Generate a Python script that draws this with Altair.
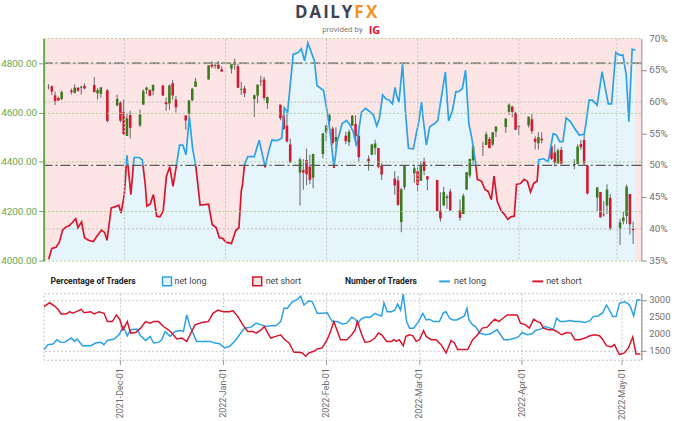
import altair as alt
import pandas as pd

# ---------------- data ----------------
candle_date = ["2021-11-08","2021-11-09","2021-11-10","2021-11-11","2021-11-12","2021-11-15","2021-11-16","2021-11-17","2021-11-18","2021-11-19","2021-11-22","2021-11-23","2021-11-24","2021-11-26","2021-11-29","2021-11-30",
"2021-12-01","2021-12-02","2021-12-03","2021-12-06","2021-12-07","2021-12-08","2021-12-09","2021-12-10","2021-12-13","2021-12-14","2021-12-15","2021-12-16","2021-12-17","2021-12-20","2021-12-21","2021-12-22","2021-12-23","2021-12-27","2021-12-28","2021-12-29","2021-12-30","2021-12-31",
"2022-01-03","2022-01-04","2022-01-05","2022-01-06","2022-01-07","2022-01-10","2022-01-11","2022-01-12","2022-01-13","2022-01-14","2022-01-18","2022-01-19","2022-01-20","2022-01-21","2022-01-24","2022-01-25","2022-01-26","2022-01-27","2022-01-28","2022-01-31",
"2022-02-01","2022-02-02","2022-02-03","2022-02-04","2022-02-07","2022-02-08","2022-02-09","2022-02-10","2022-02-11","2022-02-14","2022-02-15","2022-02-16","2022-02-17","2022-02-18","2022-02-22","2022-02-23","2022-02-24","2022-02-25","2022-02-28",
"2022-03-01","2022-03-02","2022-03-03","2022-03-04","2022-03-07","2022-03-08","2022-03-09","2022-03-10","2022-03-11","2022-03-14","2022-03-15","2022-03-16","2022-03-17","2022-03-18","2022-03-21","2022-03-22","2022-03-23","2022-03-24","2022-03-25","2022-03-28","2022-03-29","2022-03-30","2022-03-31",
"2022-04-01","2022-04-04","2022-04-05","2022-04-06","2022-04-07","2022-04-08","2022-04-11","2022-04-12","2022-04-13","2022-04-14","2022-04-18","2022-04-19","2022-04-20","2022-04-21","2022-04-22","2022-04-25","2022-04-26","2022-04-27","2022-04-28","2022-04-29",
"2022-05-02","2022-05-03","2022-05-04","2022-05-05","2022-05-06"]
candle_open = [4701,4707,4670,4659,4655,4689,4679,4701,4701,4708,4712,4678,4676,4690,4629,4640,
4603,4505,4590,4548,4632,4691,4691,4688,4710,4642,4637,4719,4653,4588,4595,4650,4704,4734,4795,4789,4794,4775,
4778,4804,4788,4693,4698,4655,4669,4729,4734,4638,4632,4588,4547,4471,4356,4367,4408,4381,4336,4432,
4520,4566,4535,4483,4506,4480,4547,4553,4506,4413,4429,4456,4456,4385,4333,4325,4156,4298,4354,
4363,4323,4401,4342,4327,4203,4223,4253,4280,4203,4189,4288,4345,4407,4462,4469,4493,4470,4523,4541,4603,4624,4599,
4540,4548,4573,4494,4475,4494,4463,4438,4394,4449,4386,4391,4472,4489,4386,4255,4278,4187,4223,4254,
4131,4160,4181,4270,4128]
candle_high = [4715,4709,4685,4665,4689,4697,4715,4702,4709,4718,4744,4699,4703,4695,4673,4646,
4653,4596,4608,4613,4694,4705,4695,4714,4710,4661,4713,4732,4667,4588,4651,4698,4741,4792,4807,4804,4809,4787,
4797,4819,4798,4725,4708,4673,4714,4749,4744,4665,4632,4612,4602,4495,4417,4411,4453,4429,4433,4517,
4551,4595,4543,4540,4522,4531,4590,4589,4526,4426,4473,4490,4456,4395,4362,4342,4295,4385,4389,
4379,4402,4417,4342,4327,4277,4299,4268,4291,4248,4271,4358,4413,4465,4482,4522,4501,4521,4546,4576,4637,4628,4603,
4549,4584,4594,4504,4521,4520,4464,4471,4454,4461,4411,4471,4488,4513,4386,4299,4278,4241,4309,4270,
4170,4200,4308,4270,4158]
candle_low = [4694,4671,4631,4648,4650,4673,4679,4684,4673,4694,4682,4653,4660,4560,4625,4560,
4510,4505,4495,4541,4632,4675,4666,4670,4668,4607,4611,4652,4600,4531,4583,4646,4704,4734,4780,4778,4775,4766,
4758,4774,4699,4671,4663,4582,4638,4707,4650,4615,4569,4530,4478,4395,4223,4287,4305,4310,4293,4414,
4484,4544,4470,4452,4472,4465,4547,4484,4401,4365,4429,4429,4374,4327,4267,4222,4115,4287,4315,
4280,4323,4346,4285,4200,4158,4223,4210,4201,4162,4188,4286,4336,4391,4424,4469,4456,4465,4501,4518,4590,4581,4530,
4508,4539,4514,4450,4450,4475,4408,4381,4393,4391,4370,4391,4449,4385,4268,4201,4175,4178,4189,4124,
4063,4147,4149,4106,4068]
candle_close = [4702,4685,4647,4649,4683,4683,4701,4689,4705,4698,4683,4691,4702,4566,4655,4567,
4513,4577,4538,4592,4687,4701,4668,4712,4669,4634,4710,4669,4621,4568,4649,4697,4726,4791,4786,4793,4779,4766,
4797,4794,4701,4696,4677,4670,4713,4726,4659,4663,4577,4533,4483,4398,4410,4357,4350,4327,4432,4516,
4547,4589,4477,4501,4484,4522,4587,4504,4419,4402,4471,4475,4380,4349,4305,4226,4289,4385,4374,
4306,4387,4364,4329,4201,4171,4278,4260,4204,4173,4263,4358,4412,4463,4461,4512,4456,4520,4543,4576,4632,4603,4530,
4546,4583,4525,4481,4500,4488,4413,4398,4447,4393,4392,4462,4460,4394,4272,4296,4175,4184,4288,4132,
4155,4175,4300,4147,4123]

# percentage of traders net long (days after 2021-11-08)
ratio_day = [0,1.0,2.3,3.3,4.3,5.3,6.3,7.3,8.3,9.0,10.1,11.0,12.2,13.7,14.9,16.2,17.2,17.9,19.2,20.5,21.5,22.2,23.2,24.0,25.2,26.2,27.7,28.7,29.6,30.1,
31.1,32.1,33.1,34.1,35.1,36.1,37.1,38.1,39.1,40.1,41.1,42.1,43.1,44.1,45.1,46.4,49.0,50.1,51.3,52.3,53.3,54.3,56.0,57.3,58.3,59.0,59.4,60.0,61.0,63.0,
64.5,66.3,67.5,68.4,69.9,71.4,72.2,73.2,74.9,76.4,77.4,78.4,79.4,81.4,82.2,84.2,85.4,86.2,87.4,88.4,89.9,91.3,92.3,93.3,94.3,95.8,97.1,98.3,99.5,100.5,
101.3,102.3,103.3,104.3,105.3,106.1,106.6,107.3,108.4,109.3,110.2,111.7,112.7,113.4,114.2,114.7,115.7,116.7,118.2,119.2,120.2,121.5,122.5,123.7,124.7,125.7,126.7,127.7,128.7,129.6,
130.7,131.3,132.6,133.6,134.6,135.6,136.4,137.4,138.6,139.6,140.6,141.6,142.6,143.3,144.6,145.6,146.6,147.6,148.6,149.6,150.1,151.6,153.0,154.5,155.5,156.5,157.5,158.5,159.8,161.0,
162.5,164.0,164.5,165.5,166.5,168.0,169.5,170.4,171.4,172.4,173.7,174.9,175.9,176.9,177.7,178.7,179.7]
ratio_pct = [35.2,36.9,37.1,37.9,39.8,40.3,40.5,41.0,41.6,40.2,41.1,38.6,38.2,38.0,38.9,39.8,39.4,38.2,43.3,43.5,43.75,42.5,45.4,51.6,45.4,51.25,51.25,50.9,47.0,43.6,
43.9,45.4,42.0,41.9,42.8,48.3,49.8,46.7,49.8,53.2,53.2,51.7,57.7,52.7,49.8,43.75,43.9,40.7,40.2,38.6,38.5,37.9,37.7,39.7,40.2,45.9,47.0,50.1,51.4,51.4,
54.0,49.7,52.45,54.0,53.9,54.3,59.1,58.4,67.5,67.8,68.4,66.5,69.3,66.5,62.6,61.8,58.2,55.3,49.6,53.75,56.6,57.1,56.4,55.3,53.0,58.4,59.0,58.5,57.9,56.2,
57.4,61.1,60.5,60.3,59.7,62.3,61.0,60.0,66.0,58.4,52.7,52.6,55.3,56.9,60.0,57.4,53.2,56.1,56.6,57.1,60.5,64.7,57.0,58.7,61.6,61.7,62.1,65.0,56.6,54.3,
50.6,47.8,47.5,46.2,45.9,44.6,48.3,44.3,42.8,42.3,41.5,41.9,42.0,47.0,47.2,47.8,47.5,45.8,47.2,47.5,50.9,51.05,50.6,55.0,54.8,53.75,53.75,57.5,56.9,55.9,
54.8,54.9,56.4,60.3,60.3,59.5,64.8,62.3,59.7,59.7,67.8,67.4,67.4,64.2,56.9,68.3,68.2]

# number of traders (days after 2021-11-08)
long_day = [0.1,1.3,2.8,4.0,5.1,6.3,8.3,9.3,10.1,11.7,14.2,15.7,17.2,18.2,19.2,21.2,22.7,24.0,25.2,26.2,28.1,29.2,30.7,32.1,33.1,34.6,35.6,36.6,38.1,39.6,
41.1,42.1,43.1,44.1,46.1,48.1,50.1,51.6,53.0,54.5,56.0,57.5,59.0,60.5,62.5,64.0,65.5,67.0,68.4,69.9,71.4,72.4,73.4,74.9,76.4,77.4,78.4,79.9,80.9,82.4,
83.9,85.4,86.9,88.4,89.9,91.3,92.8,93.8,94.8,95.5,96.8,98.3,99.8,100.8,101.8,102.5,103.5,104.8,105.8,106.6,107.5,108.3,109.3,110.2,111.4,112.7,114.2,115.2,116.2,117.4,
119.2,120.4,121.2,122.2,123.2,124.4,125.4,126.7,127.5,128.1,129.2,130.1,131.3,133.1,134.6,135.6,136.6,137.6,138.6,140.1,142.1,143.1,144.1,145.6,147.1,148.1,149.6,151.0,152.5,153.5,
154.5,155.5,157.0,158.5,160.0,161.5,163.0,164.5,165.5,167.0,168.4,169.5,170.4,171.4,172.4,173.4,174.9,175.9,176.7,177.7,178.7,179.7]
long_num = [1547,1692,1712,1837,1759,1759,1886,1788,1857,1663,1663,1741,1759,1692,1817,1857,1983,2224,1953,2128,2148,1953,1817,1935,1741,1759,1837,2079,1935,2079,
2108,2079,2564,2224,1788,1788,1788,1741,1721,1596,1643,1788,1983,2177,2206,2323,2273,2224,2244,2244,2369,2759,2759,2951,3020,3116,2855,2981,2951,2613,
2613,2631,2369,2369,2302,2323,2497,2439,2323,2439,2497,2497,2613,2564,2535,2922,2660,2660,2709,2884,2709,3174,2369,2177,2177,2340,2613,2419,2439,2369,
2369,2631,2660,2468,2419,2419,2468,2535,2759,2419,2273,2224,2032,1983,2012,2079,2128,1983,1837,1837,1886,1935,2050,1983,2012,2108,2148,2224,2177,2148,
2468,2369,2369,2398,2369,2369,2340,2398,2516,2535,2631,2855,2709,2516,2516,2904,2951,2904,2807,2535,3000,3000]
short_day = [0.1,1.8,3.3,4.3,5.3,6.8,7.9,8.7,9.9,11.3,12.2,14.2,15.2,16.7,18.2,19.2,20.7,21.9,22.9,23.9,25.2,26.2,27.7,29.2,30.7,32.1,33.1,34.6,36.1,37.6,
38.6,40.1,41.6,43.1,44.1,45.6,47.6,49.6,51.0,52.5,54.0,56.0,57.0,58.5,60.0,61.5,63.0,64.0,65.5,66.5,67.5,68.4,69.9,71.4,72.4,73.9,75.4,76.9,77.9,78.9,
79.9,81.4,82.4,83.9,85.4,86.4,87.4,88.4,89.4,91.3,92.8,93.8,94.5,95.8,96.8,98.3,99.8,100.8,101.8,103.3,104.8,105.5,106.3,107.1,108.3,109.1,110.2,111.2,112.2,113.2,
114.4,115.2,116.7,118.2,119.7,121.2,122.7,123.7,124.7,126.2,127.7,129.2,130.7,132.1,133.6,134.6,135.9,137.1,138.3,139.6,141.1,142.6,143.6,145.1,146.3,147.6,148.6,149.6,150.5,152.0,
153.5,154.5,156.0,157.5,158.8,160.0,161.5,163.0,164.5,165.9,167.4,168.4,169.5,170.9,171.9,173.4,174.9,176.1,177.4,178.4,179.7]
short_num = [2806,2922,2826,2730,2593,2593,2660,2613,2660,2730,2631,2660,2593,2660,2613,2369,2369,2564,2439,2128,2369,2032,2050,2177,2369,2323,2369,2369,2224,2128,
2032,1857,1886,1788,1983,2273,2340,2369,2613,2709,2660,2660,2689,2516,2273,2079,2079,2032,2128,2224,2032,1886,1935,1983,1857,1741,1469,1469,1450,1352,
1450,1497,1567,1596,1837,2079,2369,2100,1837,1837,1983,2128,2369,1983,1759,1788,1886,2032,1983,1788,1788,1837,1788,1837,1663,1935,1983,1953,1788,1837,
2108,1935,1837,1837,1692,1450,1817,1741,1547,1547,1547,1837,1983,2177,2206,2323,2439,2369,2468,2564,2564,2564,2323,2273,2177,2439,2369,2340,2177,2128,
2128,2079,1983,2050,2032,1837,1837,1886,1953,1983,1953,1837,1663,1625,1692,1401,1450,1596,1915,1421,1421]

month_ticks = ["2021-12-01", "2022-01-01", "2022-02-01", "2022-03-01", "2022-04-01", "2022-05-01"]
price_ticks = [4000, 4200, 4400, 4600, 4800]
pct_ticks = [35, 40, 45, 50, 55, 60, 65, 70]
pct_grid = [40, 60]
num_ticks = [1500, 2000, 2500, 3000]
logo_letters = ["D", "A", "I", "L", "Y", "F", "X"]

# ---------------- styling ----------------
W, H1, H2 = 603, 224, 67
BLUE, RED = "#2ca2e6", "#d9152c"
PINK_BG, BLUE_BG = "#fde5e6", "#e6f4fc"
GREEN_UP, RED_DN = "#3b7a1f", "#cf1a2f"
GREEN_AX = "#6aa84f"
FONT = "Roboto"

start = pd.Timestamp("2021-11-08")


def to_time(days):
    return [start + pd.Timedelta(days=float(d)) for d in days]


def dt(s):
    t = pd.Timestamp(s)
    return alt.DateTime(year=t.year, month=t.month, date=t.day)


month_vals = [dt(s) for s in month_ticks]
xscale = alt.Scale(domain=[dt("2021-11-08"), dt("2022-05-07")])

candles = pd.DataFrame({
    "t": pd.to_datetime(candle_date),
    "open": candle_open, "high": candle_high,
    "low": candle_low, "close": candle_close,
})
up = candles[candles["close"] >= candles["open"]]
down = candles[candles["close"] < candles["open"]]

ratio = pd.DataFrame({"t": to_time(ratio_day), "p": ratio_pct})

# split the ratio line where it crosses 50% so the two sides get their colours
rows = []
seg = 0
prev_side = None
for i, (d, p) in enumerate(zip(ratio_day, ratio_pct)):
    side = "long" if p >= 50 else "short"
    if i > 0 and side != prev_side:
        d0, p0 = ratio_day[i - 1], ratio_pct[i - 1]
        dc = d0 + (50 - p0) / (p - p0) * (d - d0)
        rows.append((dc, 50.0, seg, prev_side))
        seg += 1
        rows.append((dc, 50.0, seg, side))
    rows.append((d, p, seg, side))
    prev_side = side
ratio_seg = pd.DataFrame(rows, columns=["d", "p", "seg", "side"])
ratio_seg["t"] = to_time(ratio_seg["d"])
seg_long = ratio_seg[ratio_seg["side"] == "long"]
seg_short = ratio_seg[ratio_seg["side"] == "short"]

longs = pd.DataFrame({"t": to_time(long_day), "n": long_num})
shorts = pd.DataFrame({"t": to_time(short_day), "n": short_num})

pct_lab = pd.DataFrame({"v": pct_ticks, "s": [f"{v}%" for v in pct_ticks]})
num_lab = pd.DataFrame({"v": num_ticks, "s": [str(v) for v in num_ticks]})

one = pd.DataFrame({"a": [0]})

x_top = alt.X("t:T", scale=xscale,
              axis=alt.Axis(values=month_vals, labels=False, ticks=False, domain=False,
                            title=None, grid=True, gridColor="#c4c4c4", gridDash=[2, 2],
                            zindex=1))
pct_scale = alt.Scale(domain=[35, 70], zero=False, nice=False)
price_scale = alt.Scale(domain=[4000, 4900], zero=False, nice=False)

# ---- layer A: ratio area with right axis ----
area = alt.Chart(ratio).mark_area(color=BLUE_BG, clip=True).encode(
    x=x_top,
    y=alt.Y("p:Q", scale=pct_scale,
            axis=alt.Axis(orient="right", values=pct_ticks, labels=False,
                          title=None, grid=False, domainColor="#8a8a8a", tickColor="#8a8a8a",
                          tickSize=5, zindex=1)),
)
pgrid = alt.Chart(pd.DataFrame({"v": pct_grid})).mark_rule(
    color="#bdbdbd", strokeDash=[2, 2], strokeWidth=1).encode(
    y=alt.Y("v:Q", scale=pct_scale))
plabels = alt.Chart(pct_lab).mark_text(align="left", baseline="middle", font=FONT,
                                       fontSize=10, color="#707070").encode(
    x=alt.value(W + 8), y=alt.Y("v:Q", scale=pct_scale), text="s:N")
layerA = alt.layer(area, pgrid, plabels)

# ---- layer B: candles with left axis ----
wick = alt.Chart(candles).mark_rule(color="#666666", strokeWidth=1).encode(
    x=alt.X("t:T", scale=xscale),
    y=alt.Y("low:Q", scale=price_scale,
            axis=alt.Axis(orient="left", values=price_ticks, format=".2f", title=None,
                          grid=True, gridColor="#a9cf90", gridDash=[2, 2],
                          domainColor=GREEN_AX, domainWidth=2, tickColor=GREEN_AX,
                          tickSize=5, labelColor=GREEN_AX, labelFontSize=10,
                          labelFont=FONT, labelPadding=2, labelOverlap=False, zindex=1)),
    y2="high:Q",
)
body_up = alt.Chart(up).mark_bar(size=2.6, color=GREEN_UP).encode(
    x=alt.X("t:T", scale=xscale), y=alt.Y("open:Q", scale=price_scale), y2="close:Q")
body_dn = alt.Chart(down).mark_bar(size=2.6, color=RED_DN).encode(
    x=alt.X("t:T", scale=xscale), y=alt.Y("open:Q", scale=price_scale), y2="close:Q")
price_line = alt.Chart(pd.DataFrame({"v": [4800]})).mark_rule(
    color="#5a5a5a", strokeDash=[10, 3, 2, 3], strokeWidth=1.3).encode(
    y=alt.Y("v:Q", scale=price_scale))
top_border = alt.Chart(one).mark_rule(color="#a9cf90", strokeDash=[2, 2]).encode(
    x=alt.value(0), x2=alt.value(W), y=alt.value(0))
layerB = alt.layer(wick, body_up, body_dn, price_line, top_border)

# ---- layer C: ratio line + 50% rule + logo ----
line_long = alt.Chart(seg_long).mark_line(strokeWidth=1.7, color=BLUE).encode(
    x=alt.X("t:T", scale=xscale),
    y=alt.Y("p:Q", scale=pct_scale, axis=None),
    detail="seg:N",
)
line_short = alt.Chart(seg_short).mark_line(strokeWidth=1.7, color=RED).encode(
    x=alt.X("t:T", scale=xscale),
    y=alt.Y("p:Q", scale=pct_scale),
    detail="seg:N",
)
half = alt.Chart(pd.DataFrame({"v": [50]})).mark_rule(
    color="#5a5a5a", strokeDash=[10, 3, 2, 3], strokeWidth=1.3).encode(
    y=alt.Y("v:Q", scale=pct_scale))

letter_x = [260, 274, 285, 294, 306, 318, 331]
letter_col = ["#3d4350"] * 5 + ["#f5921e"] * 2
logo = []
for ch, lx, lc in zip(logo_letters, letter_x, letter_col):
    logo.append(alt.Chart(one).mark_text(text=ch, align="center", baseline="alphabetic",
                                         font="Open Sans", fontSize=17, fontWeight="bold",
                                         color=lc).encode(x=alt.value(lx), y=alt.value(-21)))
logo.append(alt.Chart(one).mark_text(text="provided by", align="left", baseline="alphabetic",
                                     font=FONT, fontSize=8, color="#7a7a7a").encode(
    x=alt.value(281), y=alt.value(-7)))
logo.append(alt.Chart(one).mark_text(text="IG", align="left", baseline="alphabetic",
                                     font="Open Sans", fontSize=11, fontWeight="bold",
                                     color="#e3132a").encode(x=alt.value(328), y=alt.value(-5)))
layerC = alt.layer(line_long, line_short, half, *logo)

top = alt.layer(layerA, layerB, layerC).resolve_scale(y="independent").properties(
    width=W, height=H1, view=alt.ViewBackground(fill=PINK_BG, stroke=None))

# ---------------- bottom panel ----------------
num_scale = alt.Scale(domain=[1250, 3200], zero=False, nice=False)
x_bot = alt.X("t:T", scale=xscale,
              axis=alt.Axis(values=month_vals, format="%Y-%b-%d", labelAngle=-90,
                            labelColor="#6a6a6a", labelFontSize=9, labelFont=FONT,
                            tickColor="#9a9a9a", tickSize=5, domain=False, title=None,
                            grid=True, gridColor="#c4c4c4", gridDash=[2, 2], labelPadding=3))
long_line = alt.Chart(longs).mark_line(color=BLUE, strokeWidth=1.5).encode(
    x=x_bot,
    y=alt.Y("n:Q", scale=num_scale,
            axis=alt.Axis(orient="right", values=num_ticks, labels=False, title=None,
                          grid=True, gridColor="#c4c4c4", gridDash=[2, 2],
                          domainColor="#8a8a8a", tickColor="#8a8a8a", tickSize=5)),
)
short_line = alt.Chart(shorts).mark_line(color=RED, strokeWidth=1.5).encode(
    x=alt.X("t:T", scale=xscale), y=alt.Y("n:Q", scale=num_scale))
nlabels = alt.Chart(num_lab).mark_text(align="left", baseline="middle", font=FONT,
                                       fontSize=9.5, color="#707070").encode(
    x=alt.value(W + 8), y=alt.Y("v:Q", scale=num_scale), text="s:N")


def txt(s, x, bold=False):
    return alt.Chart(one).mark_text(text=s, align="left", baseline="middle", font=FONT,
                                    fontSize=8.6 if bold else 9,
                                    fontWeight="bold" if bold else "normal",
                                    color="#222222" if bold else "#444444").encode(
        x=alt.value(x), y=alt.value(-12))


def square(x, stroke, fill):
    return alt.Chart(one).mark_rect(fill=fill, stroke=stroke, strokeWidth=1.5).encode(
        x=alt.value(x), x2=alt.value(x + 9), y=alt.value(-16.5), y2=alt.value(-7.5))


def dash(x, color):
    return alt.Chart(one).mark_rule(color=color, strokeWidth=2).encode(
        x=alt.value(x), x2=alt.value(x + 11), y=alt.value(-12))


legend = [
    txt("Percentage of Traders", 7, True),
    square(120, BLUE, BLUE_BG), txt("net long", 132),
    square(211, RED, PINK_BG), txt("net short", 224),
    txt("Number of Traders", 304, True),
    dash(399, BLUE), txt("net long", 414),
    dash(493, RED), txt("net short", 507),
]

bottom = alt.layer(long_line, short_line, nlabels, *legend).properties(
    width=W, height=H2,
    view=alt.ViewBackground(stroke="#bdbdbd", strokeDash=[2, 2], fill="white"))

chart = alt.vconcat(top, bottom, spacing=33, bounds="flush").properties(
    padding={"left": 0, "top": 2, "right": 9, "bottom": 6},
    background="white",
).configure_view(stroke=None)

chart.save("out.html", embed_options={"renderer": "svg", "actions": False})
